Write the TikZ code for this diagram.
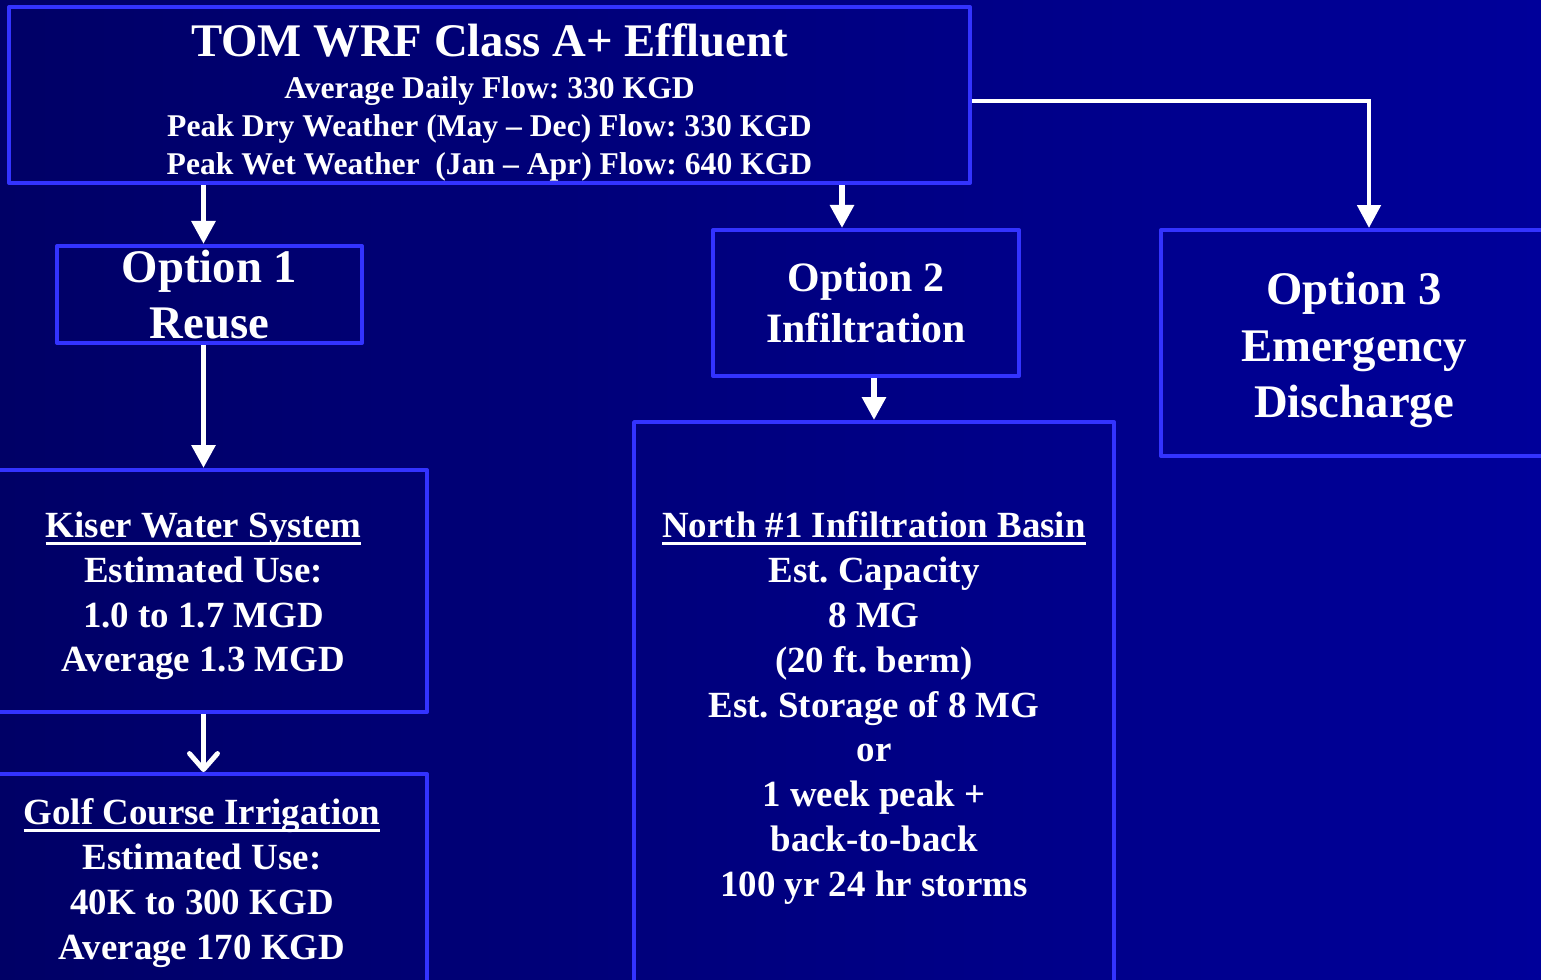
\documentclass[tikz,border=0pt]{standalone}
\usepackage{fontspec}
\setmainfont{Liberation Serif}
\usetikzlibrary{arrows.meta}
\frenchspacing

\definecolor{navyleft}{HTML}{000066}
\definecolor{navyright}{HTML}{00009A}
\definecolor{boxblue}{HTML}{3333FF}

\newsavebox\ulbox
\newcommand\ulined[1]{\sbox\ulbox{#1}\rlap{\rule[-4.3pt]{\wd\ulbox}{1.8pt}}\usebox\ulbox}

\begin{document}
\begin{tikzpicture}[x=0.02cm, y=-0.02cm]
\tikzstyle{box} = [rectangle, draw=boxblue, line width=2.3pt, line join=round, inner sep=0pt, text=white, align=center]
\tikzstyle{bodytext} = [text=white, align=center, font=\bfseries\fontsize{21}{25.5}\selectfont]
\tikzstyle{optiontext} = [text=white, align=center, font=\bfseries\fontsize{26.6}{32.3}\selectfont]

\tikzstyle{arrow} = [line width=3.4pt, white, -{Triangle[length=0.46cm, width=0.46cm]}]
\tikzstyle{openarrow} = [line width=2.8pt, white, -{Straight Barb[length=0.32cm, width=0.56cm, round]}]

\useasboundingbox (0,0) rectangle (1541,980);
\shade [left color=navyleft, right color=navyright] (0,0) rectangle (1541,980);
\clip (0,0) rectangle (1541,980);

% effluent source
\node (top) [box, minimum width=19.22cm, minimum height=3.52cm] at (489.5,95) {};
\node (toptxt) [text=white, align=center, font=\bfseries\fontsize{18}{21.5}\selectfont] at ([yshift=-0.15cm]top.center)
  {{\fontsize{26.6}{30}\selectfont TOM WRF Class A+ Effluent}\\[2.3pt]
   Average Daily Flow: 330 KGD\\
   Peak Dry Weather (May -- Dec) Flow: 330 KGD\\
   Peak Wet Weather\ \ (Jan -- Apr) Flow: 640 KGD};

% the three options
\node (opt1) [box, optiontext, minimum width=6.1cm, minimum height=1.94cm] at (209.5,294.5) {Option 1\\Reuse};
\node (opt2) [box, minimum width=6.12cm, minimum height=2.92cm, font=\bfseries\fontsize{23.8}{28.9}\selectfont] at (866,303) {Option 2\\Infiltration};
\node (opt3) [box, minimum width=7.72cm, minimum height=4.52cm] at (1354,343) {};
\node (opt3txt) [optiontext] at ([yshift=-0.14cm]opt3.center) {Option 3\\Emergency\\Discharge};

% reuse branch
\node (kiser) [box, minimum width=8.94cm, minimum height=4.84cm] at (203.5,591) {};
\node (kisertxt) [bodytext] at ([yshift=-0.1cm]kiser.center)
  {\ulined{Kiser Water System}\\Estimated Use:\\1.0 to 1.7 MGD\\Average 1.3 MGD};
\node (golf) [box, minimum width=8.94cm, minimum height=4.72cm] at (203.5,892) {};
\node (golftxt) [bodytext] at (202,883)
  {\ulined{Golf Course Irrigation}\\Estimated Use:\\40K to 300 KGD\\Average 170 KGD};

% infiltration branch
\node (north) [box, minimum width=9.6cm, minimum height=11.76cm] at (874,716) {};
\node (northtxt) [bodytext] at (874,708)
  {\ulined{North \#1 Infiltration Basin}\\Est. Capacity\\8 MG\\(20 ft. berm)\\Est. Storage of 8 MG\\or\\1 week peak +\\back-to-back\\100 yr 24 hr storms};

\coordinate (o2in) at ([xshift=-0.48cm]opt2.north);
\coordinate (o3in) at ([xshift=0.3cm]opt3.north);

\draw [arrow] (top.south -| kiser) -- (opt1.north -| kiser);
\draw [arrow] (opt1.south -| kiser) -- (kiser.north);
\draw [openarrow] (kiser.south) -- (golf.north);

\draw [arrow] (top.south -| o2in) -- (o2in);
\draw [arrow] (opt2.south -| north) -- (north.north);

\draw [arrow, line width=2.8pt] ([yshift=-0.12cm]top.east) -| (o3in);
\end{tikzpicture}
\end{document}
